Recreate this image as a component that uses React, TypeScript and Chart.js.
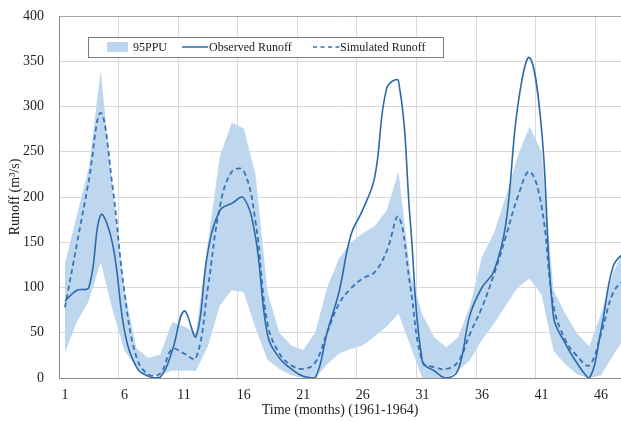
import { useEffect, useRef } from "react";
import { Chart, registerables } from "chart.js";

Chart.register(...registerables);

// Monthly runoff, 1961-1964 (m³/s)
const months = [
  1, 2, 3, 4, 5, 6, 7, 8, 9, 10, 11, 12, 13, 14, 15, 16, 17, 18, 19, 20, 21, 22, 23, 24,
  25, 26, 27, 28, 29, 30, 31, 32, 33, 34, 35, 36, 37, 38, 39, 40, 41, 42, 43, 44, 45, 46, 47, 48,
];
const labelMonths = [1, 6, 11, 16, 21, 26, 31, 36, 41, 46];
const yTickValues = [0, 50, 100, 150, 200, 250, 300, 350, 400];

const observed = [
  85, 97, 100, 180, 148, 52, 12, 2, 1, 30, 74, 46, 140, 185, 193, 199, 155, 48, 22, 10, 2, 0, 50, 95,
  158, 186, 222, 320, 328, 170, 18, 8, 0, 9, 70, 100, 118, 170, 300, 354, 275, 68, 38, 16, 0, 53, 123, 140,
];
const simulated = [
  78, 148, 218, 293, 211, 94, 23, 4, 5, 32, 27, 22, 100, 189, 228, 229, 172, 60, 27, 14, 10, 17, 50, 82,
  99, 110, 117, 140, 178, 100, 18, 12, 10, 18, 49, 78, 114, 156, 200, 228, 190, 80, 42, 24, 14, 49, 94, 110,
];
const ppuUpper = [
  127, 180, 232, 340, 208, 97, 33, 22, 26, 62, 57, 50, 150, 245, 282, 276, 225, 95, 50, 36, 31, 50, 100, 132,
  150, 160, 168, 185, 228, 115, 70, 45, 34, 45, 80, 134, 160, 200, 245, 278, 250, 97, 71, 49, 35, 71, 116, 145,
];
const ppuLower = [
  28, 62, 85, 128, 75, 30, 12, 2, 4, 8, 8, 8, 35, 80, 97, 95, 55, 20, 10, 3, 0, 0, 15, 27,
  32, 36, 46, 57, 71, 35, 0, 0, 0, 8, 20, 42, 60, 80, 100, 110, 92, 30, 15, 4, 0, 3, 25, 45,
];

const LINE_BLUE = "#2d6aa8";
const DASH_BLUE = "#3474b8";
const BAND_BLUE = "rgb(190, 215, 239)";
const GRID = "#d9d9d9";
const AXIS = "#8c8c8c";
const TEXT = "#222222";
const SERIF = "'Liberation Serif', 'Times New Roman', serif";

// Legend drawn inside the plot area, in a bordered white box
const inlineLegend = {
  id: "inlineLegend",
  afterDatasetsDraw(chart: any, _args: any, opts: any) {
    const { ctx } = chart;
    const box = opts.box;
    ctx.save();
    ctx.fillStyle = "#ffffff";
    ctx.fillRect(box.left, box.top, box.right - box.left, box.bottom - box.top);
    ctx.strokeStyle = "#7f7f7f";
    ctx.lineWidth = 1;
    ctx.strokeRect(box.left + 0.5, box.top + 0.5, box.right - box.left, box.bottom - box.top);
    const cy = (box.top + box.bottom) / 2;
    ctx.font = `12px ${SERIF}`;
    ctx.textBaseline = "middle";
    ctx.textAlign = "left";
    for (const item of opts.items) {
      const ds = chart.data.datasets[item.dataset];
      if (item.kind === "box") {
        ctx.fillStyle = ds.backgroundColor;
        ctx.fillRect(item.x, cy - 5, item.w, 10);
      } else {
        ctx.strokeStyle = ds.borderColor;
        ctx.lineWidth = 1.5;
        ctx.setLineDash(item.kind === "dash" ? [4, 3.5] : []);
        ctx.beginPath();
        ctx.moveTo(item.x, cy);
        ctx.lineTo(item.x + item.w, cy);
        ctx.stroke();
        ctx.setLineDash([]);
      }
      ctx.fillStyle = TEXT;
      ctx.fillText(ds.label, item.textX, cy + 0.5);
    }
    ctx.restore();
  },
};

export default function App() {
  const canvasRef = useRef<HTMLCanvasElement | null>(null);

  useEffect(() => {
    document.body.style.margin = "0";
    const canvas = canvasRef.current;
    if (!canvas) return;

    const chart = new Chart(canvas, {
      type: "line",
      data: {
        labels: months,
        datasets: [
          {
            label: "Observed Runoff",
            data: observed,
            borderColor: LINE_BLUE,
            borderWidth: 1.6,
            pointRadius: 0,
            tension: 0.4,
            fill: false,
          },
          {
            label: "Simulated Runoff",
            data: simulated,
            borderColor: DASH_BLUE,
            borderWidth: 1.8,
            borderDash: [5, 3.5],
            pointRadius: 0,
            tension: 0.4,
            fill: false,
          },
          {
            label: "95PPU",
            data: ppuUpper,
            borderWidth: 0,
            borderColor: "rgba(0,0,0,0)",
            backgroundColor: BAND_BLUE,
            pointRadius: 0,
            tension: 0,
            fill: "+1",
          },
          {
            label: "",
            data: ppuLower,
            borderWidth: 0,
            borderColor: "rgba(0,0,0,0)",
            backgroundColor: BAND_BLUE,
            pointRadius: 0,
            tension: 0,
            fill: false,
          },
        ],
      },
      options: {
        responsive: false,
        animation: false,
        devicePixelRatio: 1,
        layout: { padding: { top: 16, right: 0, bottom: 0, left: 0 } },
        plugins: {
          legend: { display: false },
          tooltip: { enabled: false },
          inlineLegend: {
            box: { left: 88, top: 37, right: 443, bottom: 57 },
            items: [
              { dataset: 2, kind: "box", x: 107, w: 21, textX: 133 },
              { dataset: 0, kind: "line", x: 182, w: 26, textX: 209 },
              { dataset: 1, kind: "dash", x: 313, w: 27, textX: 340 },
            ],
          },
        } as any,
        scales: {
          x: {
            type: "linear",
            min: 0.5,
            max: 47.67,
            afterBuildTicks: (scale: any) => {
              const ticks: { value: number }[] = [];
              for (const m of labelMonths) {
                ticks.push({ value: m - 0.5 });
                ticks.push({ value: m });
              }
              scale.ticks = ticks;
            },
            afterFit: (scale: any) => {
              scale.height = 44;
              scale.paddingLeft = 0;
              scale.paddingRight = 0;
            },
            grid: {
              color: (ctx: any) =>
                ctx.tick && !Number.isInteger(ctx.tick.value) && ctx.tick.value > 1 ? GRID : "rgba(0,0,0,0)",
              lineWidth: 1,
              drawTicks: false,
            },
            border: { color: AXIS, width: 1 },
            ticks: {
              autoSkip: false,
              maxRotation: 0,
              padding: 9,
              color: TEXT,
              font: { family: SERIF, size: 14 },
              callback: (value: any) => (Number.isInteger(value) ? String(value) : ""),
            },
            title: {
              display: true,
              text: "Time (months) (1961-1964)",
              color: TEXT,
              font: { family: SERIF, size: 14 },
              padding: { top: 0, bottom: 3 },
            },
          },
          y: {
            min: 0,
            max: 400,
            afterBuildTicks: (scale: any) => {
              scale.ticks = yTickValues.map((v) => ({ value: v }));
            },
            afterFit: (scale: any) => {
              scale.width = 59;
              scale.paddingTop = 0;
              scale.paddingBottom = 0;
            },
            grid: {
              color: (ctx: any) => (ctx.tick && ctx.tick.value === 400 ? "#a6a6a6" : GRID),
              lineWidth: 1,
              drawTicks: false,
            },
            border: { color: AXIS, width: 1 },
            ticks: {
              padding: 15,
              color: TEXT,
              font: { family: SERIF, size: 14 },
            },
            title: {
              display: true,
              text: "Runoff (m³/s)",
              color: TEXT,
              font: { family: SERIF, size: 14 },
              padding: { top: 7, bottom: 0 },
            },
          },
        },
      },
      plugins: [inlineLegend],
    });

    return () => chart.destroy();
  }, []);

  return (
    <div style={{ width: 621, height: 422 }}>
      <canvas ref={canvasRef} width={621} height={422} style={{ display: "block" }} />
    </div>
  );
}
